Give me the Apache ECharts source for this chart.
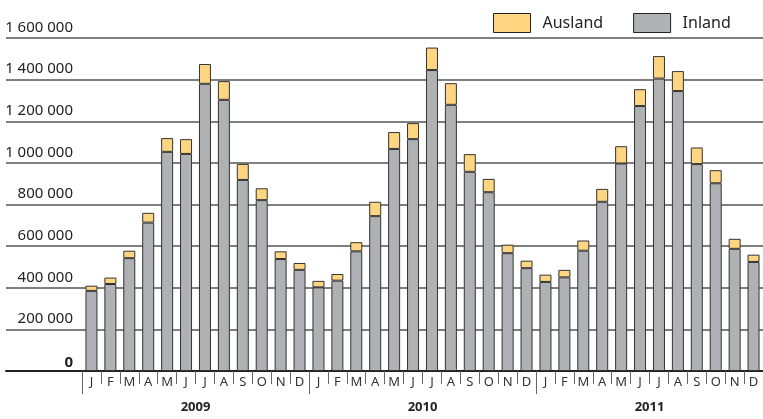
<!DOCTYPE html>
<head>
    <meta charset="utf-8"/>
    <style>
        html,body { height:100%; width:100%; margin:0; padding:0; background:#fff; }
    </style>
</head>
<body>
<div id="chart" style="width:763px;height:419px;"></div>
<script src="https://cdn.jsdelivr.net/npm/echarts@6/dist/echarts.min.js"></script>
<script type="text/javascript">
var months = ['J','F','M','A','M','J','J','A','S','O','N','D',
              'J','F','M','A','M','J','J','A','S','O','N','D',
              'J','F','M','A','M','J','J','A','S','O','N','D'];
var years = ['2009', '2010', '2011'];
var yTicks = [0, 200000, 400000, 600000, 800000, 1000000, 1200000, 1400000, 1600000];

var inland = [385000, 418000, 542000, 713000, 1053000, 1043000, 1380000, 1303000, 918000, 821000, 538000, 486000,
              402000, 434000, 575000, 744000, 1067000, 1114000, 1446000, 1279000, 957000, 859000, 566000, 494000,
              428000, 450000, 578000, 813000, 997000, 1273000, 1405000, 1345000, 994000, 902000, 587000, 524000];
var ausland = [25000, 31000, 36000, 47000, 66000, 71000, 95000, 90000, 77000, 57000, 37000, 33000,
               31000, 32000, 44000, 69000, 81000, 77000, 108000, 104000, 85000, 64000, 41000, 36000,
               35000, 36000, 49000, 62000, 83000, 81000, 108000, 96000, 80000, 63000, 48000, 35000];

var font = 'Noto Sans';

// Zahlen mit Leerzeichen gruppieren
function fmt(v) {
    return v.toString().replace(/\B(?=(\d{3})+(?!\d))/g, ' ');
}

var chart = echarts.init(document.getElementById('chart'));

var option = {
    animation: false,
    textStyle: { fontFamily: font },
    legend: {
        data: ['Ausland', 'Inland'],
        icon: 'rect',
        left: 488,
        top: 8,
        itemWidth: 37,
        itemHeight: 19,
        itemGap: 30,
        selectedMode: false,
        itemStyle: { borderColor: '#222', borderWidth: 1 },
        textStyle: { fontSize: 16, color: '#222', padding: [0, 0, 0, 7] }
    },
    grid: [
        { left: 6, right: 0, top: 38, bottom: 48 },
        { left: 82, right: 0, top: 38, bottom: 48 }
    ],
    xAxis: [
        {
            gridIndex: 0, type: 'value', min: 0, max: 1,
            axisLine: { show: true, lineStyle: { color: '#222', width: 2 } },
            axisTick: { show: false }, axisLabel: { show: false }, splitLine: { show: false }
        },
        {
            gridIndex: 1, type: 'category', data: months,
            axisLine: { show: false },
            axisTick: { show: true, interval: 0, length: 13, lineStyle: { color: '#666', width: 1 } },
            axisLabel: { interval: 0, margin: 5, fontSize: 13, color: '#333' }
        },
        {
            gridIndex: 1, type: 'category', data: years, position: 'bottom',
            axisLine: { show: false },
            axisTick: { show: true, interval: 0, length: 23, lineStyle: { color: '#666', width: 1 } },
            axisLabel: { interval: 0, margin: 30, fontSize: 13, fontWeight: 'bold', color: '#222' }
        }
    ],
    yAxis: [
        {
            gridIndex: 0, type: 'value', min: yTicks[0], max: yTicks[yTicks.length - 1], interval: 200000,
            axisLine: { show: false }, axisTick: { show: false },
            splitLine: { show: true, lineStyle: { color: '#555', width: 1.5 } },
            axisLabel: {
                margin: -67,
                align: 'right',
                verticalAlign: 'bottom',
                padding: [0, 0, 3, 0],
                fontSize: 15,
                color: '#222',
                formatter: function (v) {
                    return v === 0 ? '{b|0}' : fmt(v);
                },
                rich: { b: { fontWeight: 'bold', fontSize: 15, color: '#222', padding: [0, 0, -2, 0] } }
            }
        },
        {
            gridIndex: 1, type: 'value', min: yTicks[0], max: yTicks[yTicks.length - 1], interval: 200000,
            show: false, splitLine: { show: false }
        }
    ],
    series: [
        {
            name: 'Inland', type: 'bar', stack: 'total',
            xAxisIndex: 1, yAxisIndex: 1,
            barWidth: 12,
            itemStyle: { color: '#b0b1b5', borderColor: '#333', borderWidth: 1 },
            data: inland
        },
        {
            name: 'Ausland', type: 'bar', stack: 'total',
            xAxisIndex: 1, yAxisIndex: 1,
            barWidth: 12,
            itemStyle: { color: '#fed581', borderColor: '#333', borderWidth: 1 },
            data: ausland
        }
    ]
};

chart.setOption(option);
</script>
</body>
